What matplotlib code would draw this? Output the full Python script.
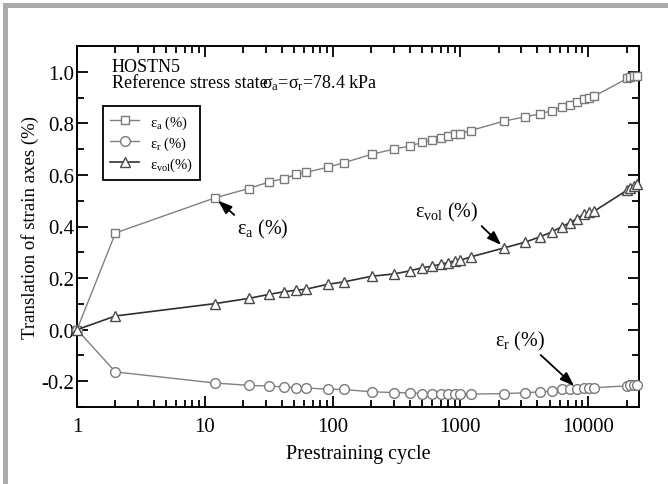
import matplotlib
matplotlib.use("Agg")
import matplotlib.pyplot as plt
from matplotlib.patches import Rectangle

plt.rcParams['font.family'] = ['Liberation Serif', 'DejaVu Serif']
plt.rcParams['mathtext.fontset'] = 'custom'
plt.rcParams['mathtext.rm'] = 'Liberation Serif'
plt.rcParams['mathtext.it'] = 'Liberation Serif:italic'
plt.rcParams['mathtext.bf'] = 'Liberation Serif:bold'
plt.rcParams['axes.unicode_minus'] = False

# ---- data ----
cycles = [1, 2, 12, 22, 32, 42, 52, 62, 92, 122, 202, 302, 402, 502, 602, 702,
          802, 902, 1002, 1202, 2202, 3202, 4202, 5202, 6202, 7202, 8202, 9202,
          10202, 11202, 20200, 21200, 22700, 24200]
eps_a = [0.0, 0.375, 0.511, 0.547, 0.573, 0.586, 0.602, 0.610, 0.630, 0.647,
         0.680, 0.700, 0.712, 0.726, 0.735, 0.744, 0.752, 0.757, 0.760, 0.772,
         0.809, 0.825, 0.837, 0.849, 0.862, 0.871, 0.884, 0.894, 0.899, 0.906,
         0.974, 0.978, 0.982, 0.983]
eps_r = [0.0, -0.164, -0.207, -0.216, -0.219, -0.222, -0.226, -0.226, -0.231, -0.232,
         -0.241, -0.244, -0.245, -0.248, -0.248, -0.249, -0.249, -0.249, -0.250, -0.250,
         -0.248, -0.245, -0.241, -0.239, -0.232, -0.231, -0.229, -0.226, -0.226, -0.225,
         -0.218, -0.216, -0.214, -0.213]
eps_vol = [0.0, 0.053, 0.101, 0.121, 0.137, 0.147, 0.153, 0.157, 0.176, 0.185,
           0.207, 0.216, 0.228, 0.240, 0.246, 0.254, 0.260, 0.267, 0.269, 0.282,
           0.317, 0.339, 0.360, 0.379, 0.399, 0.415, 0.431, 0.447, 0.457, 0.460,
           0.541, 0.550, 0.556, 0.563]

x_ticks = [1, 10, 100, 1000, 10000]
x_tick_labels = ['1', '10', '100', '1000', '10000']
y_ticks = [-0.2, 0.0, 0.2, 0.4, 0.6, 0.8, 1.0]
y_tick_labels = ['-0.2', '0.0', '0.2', '0.4', '0.6', '0.8', '1.0']

W, H = 668, 485
fig = plt.figure(figsize=(W / 100, H / 100), dpi=100, facecolor='white')

# gray frame (top and left)
fig.patches.append(Rectangle((3 / W, 0), 5 / W, 1 - 4 / H, transform=fig.transFigure,
                             facecolor='#ababab', edgecolor='none', zorder=0))
fig.patches.append(Rectangle((3 / W, 1 - 9 / H), 1 - 3 / W, 5 / H, transform=fig.transFigure,
                             facecolor='#ababab', edgecolor='none', zorder=0))

ax = fig.add_axes([77 / W, 1 - 408 / H, (639 - 77) / W, (408 - 47) / H])
ax.set_facecolor('white')

gray = '#808080'
ax.plot(cycles, eps_a, '-', color=gray, lw=1.0, marker='s', ms=5.8, mfc='white',
        mec='#7a7a7a', mew=1.0, label='ε$_\\mathrm{a}$ (%)', clip_on=False, zorder=3)
ax.plot(cycles, eps_r, '-', color=gray, lw=1.0, marker='o', ms=7.0, mfc='white',
        mec='#7a7a7a', mew=1.0, label='ε$_\\mathrm{r}$ (%)', clip_on=False, zorder=3)
ax.plot(cycles, eps_vol, '-', color='#303030', lw=1.2, marker='^', ms=7.0, mfc='white',
        mec='#4a4a4a', mew=1.0, label='ε$_\\mathrm{vol}$(%)', clip_on=False, zorder=3)

ax.set_xscale('log')
ax.set_xlim(1, 25000)
ax.set_ylim(-0.3, 1.1)
ax.set_xticks(x_ticks)
ax.set_xticklabels(x_tick_labels)
ax.set_yticks(y_ticks)
ax.set_yticklabels(y_tick_labels)
ax.set_yticks([-0.3, -0.1, 0.1, 0.3, 0.5, 0.7, 0.9, 1.1], minor=True)
ax.xaxis.set_minor_locator(matplotlib.ticker.LogLocator(base=10, subs=range(2, 10)))
ax.xaxis.set_minor_formatter(matplotlib.ticker.NullFormatter())

ax.tick_params(which='both', direction='in', top=True, right=True, width=1.3, labelsize=15)
ax.tick_params(which='major', length=8)
ax.tick_params(which='minor', length=5)
ax.tick_params(axis='x', pad=7)
ax.tick_params(axis='y', pad=2)
for s in ax.spines.values():
    s.set_linewidth(1.4)

ax.set_xlabel('Prestraining cycle', fontsize=14.5, labelpad=6)
ax.set_ylabel('Translation of strain axes (%)', fontsize=13.5, labelpad=2)

# header texts placed in pixel coordinates of the figure
fig.text(112 / W, 1 - 72 / H, 'HOSTN5', fontsize=13, va='baseline')
fig.text(112 / W, 1 - 88 / H, 'Reference stress state', fontsize=13, va='baseline')
fig.text(262 / W, 1 - 88 / H, 'σ$_\\mathrm{a}$=σ$_\\mathrm{r}$=78.4 kPa', fontsize=13, va='baseline')

leg = ax.legend(loc='upper left', bbox_to_anchor=((103 - 77) / 562, 1 - (107 - 47) / 361),
                borderaxespad=0, fontsize=10.5, frameon=True, fancybox=False,
                edgecolor='black', framealpha=1, handlelength=2.0, handletextpad=0.7,
                labelspacing=0.25, borderpad=0.5)
leg.get_frame().set_linewidth(1.3)

arrow = dict(arrowstyle='-|>,head_length=0.7,head_width=0.25', color='black', lw=1.3,
             shrinkA=0, shrinkB=3, mutation_scale=12)
ax.annotate('ε$_\\mathrm{a}$ (%)', xy=(cycles[2], eps_a[2]), xytext=(48, -31),
            textcoords='offset pixels', fontsize=14.5, ha='center', va='center',
            arrowprops=dict(arrow, relpos=(0.0, 1.0)))
ax.annotate('ε$_\\mathrm{vol}$ (%)', xy=(cycles[20], eps_vol[20]), xytext=(-57, 36),
            textcoords='offset pixels', fontsize=14.5, ha='center', va='center',
            arrowprops=dict(arrow, relpos=(1.0, 0.0)))
ax.annotate('ε$_\\mathrm{r}$ (%)', xy=(cycles[26], eps_r[26]), xytext=(-57, 48),
            textcoords='offset pixels', fontsize=14.5, ha='center', va='center',
            arrowprops=dict(arrow, relpos=(0.85, 0.0)))

fig.savefig('out.png', dpi=100, facecolor='white')
